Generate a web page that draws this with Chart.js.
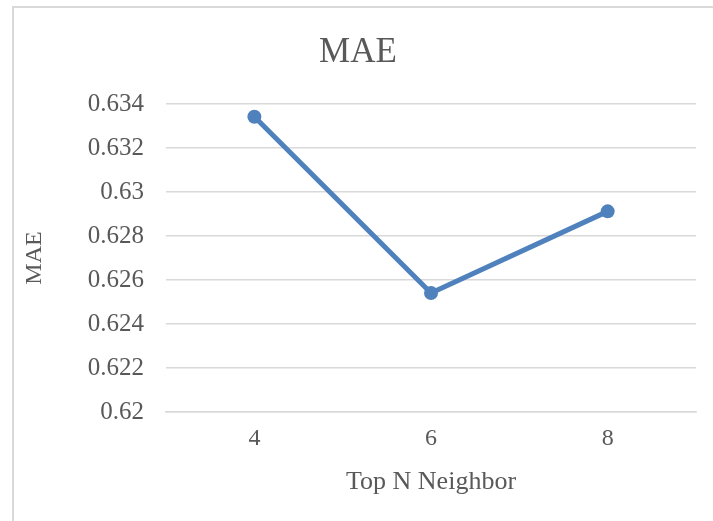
<!DOCTYPE html>
<html>
<head>
<meta charset="utf-8">
<script src="https://cdn.jsdelivr.net/npm/chart.js@4"></script>
<style>
  html, body { margin: 0; padding: 0; background: #fff; }
  #wrap { position: relative; width: 713px; height: 521px; }
  #frame { position: absolute; left: 12px; top: 6px; right: 0; bottom: 0;
           border-left: 2px solid #d9d9d9; border-top: 2px solid #d9d9d9; pointer-events: none; }
</style>
</head>
<body>
<div id="wrap">
  <canvas id="chart" width="713" height="521"></canvas>
  <div id="frame"></div>
</div>
<script>
// categories et valeurs
const neighbors = ['4', '6', '8'];
const maeValues = [0.63342, 0.62541, 0.62912];
const yMin = 0.62;
const yMax = 0.634;
const yStep = 0.002;

const grey = '#595959';
const serif = '"Liberation Serif", "Times New Roman", serif';

new Chart(document.getElementById('chart'), {
  type: 'line',
  data: {
    labels: neighbors,
    datasets: [{
      label: 'MAE',
      data: maeValues,
      borderColor: '#4f81bd',
      backgroundColor: '#4f81bd',
      borderWidth: 5,
      pointRadius: 7,
      pointHoverRadius: 7,
      pointBorderWidth: 0,
      tension: 0
    }]
  },
  options: {
    responsive: false,
    animation: false,
    layout: { padding: { left: 20, right: 17, top: 20, bottom: 23 } },
    plugins: {
      legend: { display: false },
      tooltip: { enabled: false },
      title: {
        display: true,
        text: 'MAE',
        color: grey,
        font: { family: serif, size: 35, weight: 'normal' },
        padding: { top: 12, bottom: 30 }
      }
    },
    scales: {
      x: {
        offset: true,
        grid: { display: false, drawTicks: false },
        border: { display: true, color: '#d9d9d9', width: 1.5 },
        ticks: { color: grey, font: { family: serif, size: 24 }, padding: 12 },
        title: {
          display: true,
          text: 'Top N Neighbor',
          color: grey,
          font: { family: serif, size: 26 },
          padding: { top: 2, bottom: 0 }
        }
      },
      y: {
        min: yMin,
        max: yMax,
        grid: { color: '#d9d9d9', lineWidth: 1.5, drawTicks: false },
        border: { display: false },
        ticks: {
          stepSize: yStep,
          color: grey,
          font: { family: serif, size: 25 },
          padding: 22,
          callback: v => parseFloat(v.toFixed(3)).toString()
        },
        title: {
          display: true,
          text: 'MAE',
          color: grey,
          font: { family: serif, size: 24 },
          padding: { top: 0, bottom: 17 }
        }
      }
    }
  }
});
</script>
</body>
</html>
